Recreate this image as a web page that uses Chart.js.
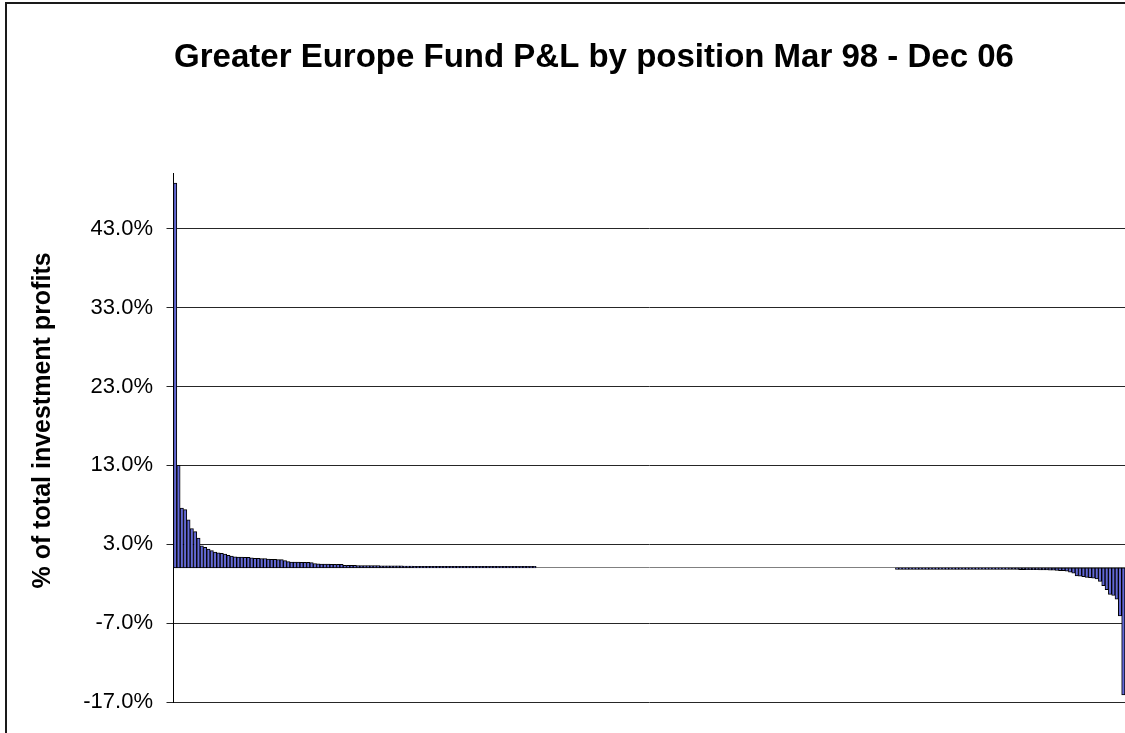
<!DOCTYPE html>
<html>
<head>
<meta charset="utf-8">
<title>Greater Europe Fund P&amp;L by position</title>
<script src="https://cdn.jsdelivr.net/npm/chart.js@4.4.1/dist/chart.umd.min.js"></script>
<style>
    html, body { margin: 0; padding: 0; background: #fff; overflow: hidden; }
    #wrap { position: absolute; left: 0; top: 0; width: 1182px; height: 733px; }
    #frame { position: absolute; left: 5px; top: 2px; width: 1300px; height: 900px;
             border: 2px solid #1a1a1a; pointer-events: none; }
</style>
</head>
<body>
<div id="wrap"><canvas id="pnlChart"></canvas></div>
<div id="frame"></div>
<script>
// P&L share per position (% of total investment profits), ranked best to worst.
var winners = [
    48.8, 13.0, 7.6, 7.4, 6.1, 5.0, 4.6, 3.8, 2.8, 2.6,
    2.4, 2.2, 2.0, 1.9, 1.85, 1.75, 1.6, 1.5, 1.42, 1.38,
    1.36, 1.35, 1.34, 1.27, 1.22, 1.21, 1.2, 1.19, 1.12, 1.09,
    1.08, 1.07, 1.05, 0.92, 0.8, 0.75, 0.74, 0.73, 0.72, 0.71,
    0.7, 0.68, 0.56, 0.52, 0.5, 0.49, 0.48, 0.47, 0.46, 0.46,
    0.45, 0.34, 0.33, 0.32, 0.32, 0.31, 0.31, 0.3, 0.3, 0.3,
    0.29, 0.29, 0.28, 0.28, 0.28, 0.27, 0.27, 0.26, 0.26, 0.25,
    0.25, 0.25, 0.19, 0.18, 0.18, 0.17, 0.17, 0.17, 0.16, 0.16,
    0.16, 0.15, 0.15, 0.15, 0.14, 0.14, 0.14, 0.14, 0.13, 0.13,
    0.13, 0.13, 0.12, 0.12, 0.12, 0.12, 0.12, 0.11, 0.11, 0.11,
    0.11, 0.11, 0.1, 0.1, 0.1, 0.1, 0.1, 0.1, 0.1
];
// positions with no visible P&L between the winners and the losers
var flatCount = 108;
var losers = [
    -0.08, -0.08, -0.08, -0.08, -0.09, -0.09, -0.09, -0.09, -0.09, -0.1,
    -0.1, -0.1, -0.1, -0.1, -0.1, -0.11, -0.11, -0.11, -0.11, -0.12,
    -0.12, -0.12, -0.12, -0.13, -0.13, -0.13, -0.14, -0.14, -0.14, -0.15,
    -0.15, -0.16, -0.17, -0.18,
    -0.2, -0.2, -0.2, -0.21, -0.21, -0.22, -0.22, -0.23, -0.23, -0.24,
    -0.25, -0.26, -0.28,
    -0.3, -0.33, -0.35, -0.35, -0.4, -0.55, -0.65, -1.0, -1.05, -1.1,
    -1.2, -1.25, -1.3, -1.4, -1.7, -2.25, -2.75, -3.35, -3.5, -3.95,
    -6.1, -16.1
];
var yTicks = [-17, -7, 3, 13, 23, 33, 43];
var yMin = -17;
var yMax = 50;

var values = winners.concat(new Array(flatCount).fill(null), losers);
var positions = values.map(function (v, i) { return String(i + 1); });

Chart.defaults.font.family = "'Liberation Sans', Arial, Helvetica, sans-serif";
Chart.defaults.color = '#000';

new Chart(document.getElementById('pnlChart'), {
    type: 'bar',
    data: {
        labels: positions,
        datasets: [{
            label: '% of total investment profits',
            data: values,
            backgroundColor: '#6268d6',
            borderColor: '#000',
            borderWidth: 1,
            borderSkipped: false,
            minBarLength: 1.5,
            barPercentage: 1.0,
            categoryPercentage: 1.0
        }]
    },
    options: {
        responsive: true,
        maintainAspectRatio: false,
        animation: false,
        layout: { padding: { left: 6, top: 0, right: 0, bottom: 31 } },
        plugins: {
            legend: { display: false },
            tooltip: { enabled: false },
            title: {
                display: true,
                text: 'Greater Europe Fund P&L by position Mar 98 - Dec 06',
                color: '#000',
                font: { size: 33, weight: 'bold' },
                padding: { top: 38, bottom: 96 }
            }
        },
        scales: {
            x: {
                type: 'category',
                position: { y: 0 },
                grid: { display: false },
                ticks: { display: false },
                border: { display: true, color: '#808080', width: 1 }
            },
            y: {
                position: 'left',
                min: yMin,
                max: yMax,
                afterBuildTicks: function (scale) {
                    scale.ticks = yTicks.map(function (v) { return { value: v }; });
                },
                afterFit: function (scale) { scale.width = 167.5; },
                ticks: {
                    padding: 13.5,
                    font: { size: 22 },
                    color: '#000',
                    callback: function (v) { return v.toFixed(1) + '%'; }
                },
                grid: {
                    color: '#262626',
                    lineWidth: 1,
                    drawTicks: true,
                    tickLength: 7,
                    tickColor: '#262626'
                },
                border: { display: true, color: '#000', width: 1 },
                title: {
                    display: true,
                    text: '     % of total investment profits',
                    color: '#000',
                    font: { size: 25, weight: 'bold' },
                    padding: { top: 22, bottom: 0 }
                }
            },
            // empty strip on the right so the plot stops at the cropped edge
            yRight: {
                position: 'right',
                min: yMin,
                max: yMax,
                grid: { display: false },
                ticks: { display: false },
                border: { display: false },
                afterFit: function (scale) { scale.width = 57; }
            }
        }
    }
});
</script>
</body>
</html>
